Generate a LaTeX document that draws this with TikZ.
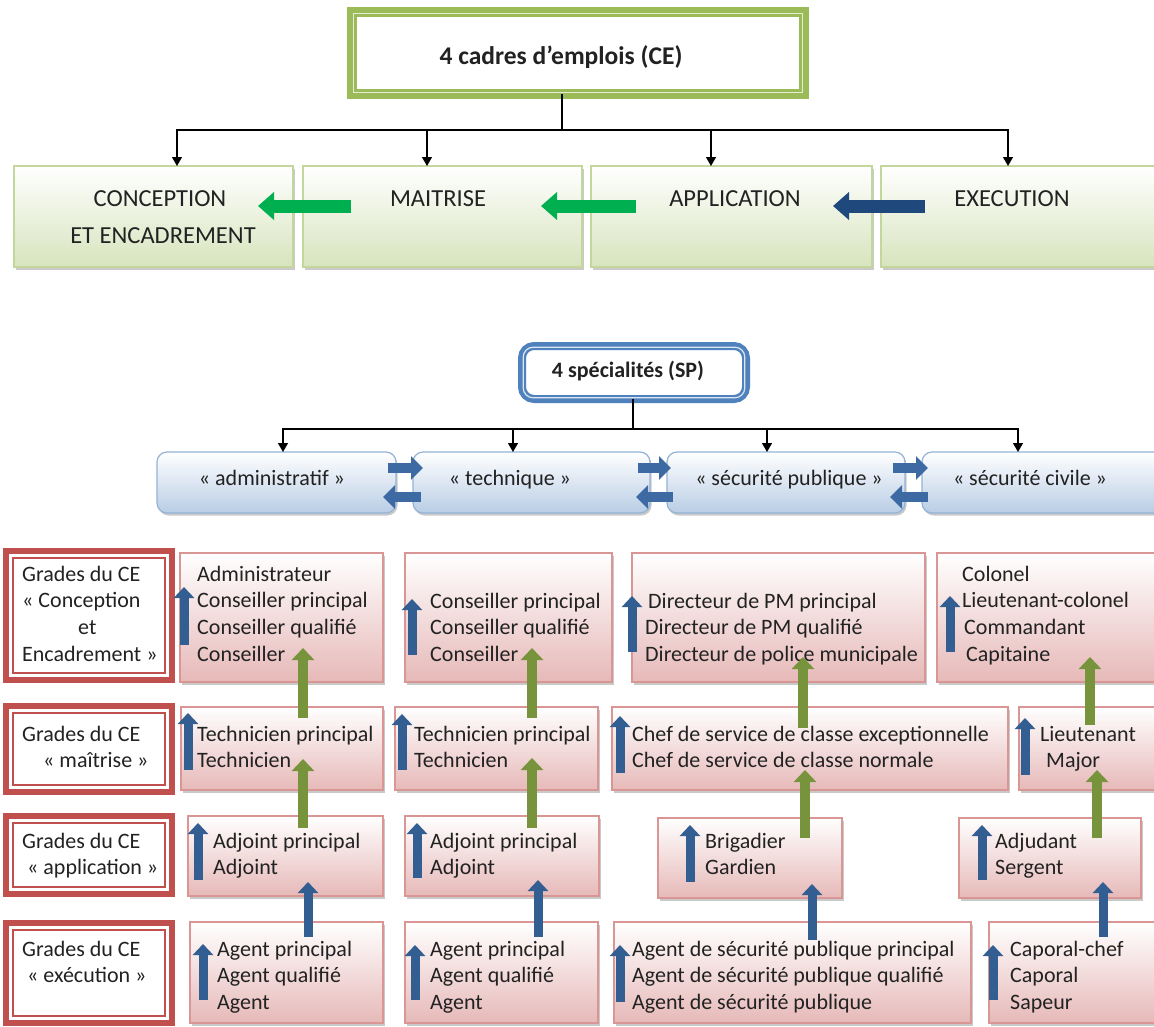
\documentclass[tikz,border=0pt]{standalone}
\usepackage{fontspec}
\setmainfont{Carlito}
\usetikzlibrary{arrows.meta,shadows}
\definecolor{txt}{HTML}{222222}
\definecolor{gBorder}{HTML}{C3D69B}
\definecolor{gFill}{HTML}{D7E4BD}
\definecolor{bBorder}{HTML}{95B3D7}
\definecolor{bFill}{HTML}{B9CDE5}
\definecolor{pBorder}{HTML}{D99694}
\definecolor{pFill}{HTML}{E6B9B8}
\definecolor{rRed}{HTML}{C0504D}
\definecolor{tGreen}{HTML}{9BBB59}
\definecolor{tLight}{HTML}{E4EDD3}
\definecolor{spBlue}{HTML}{4F81BD}
\definecolor{spLight}{HTML}{DCE6F2}
\definecolor{arrTopG}{HTML}{00B050}
\definecolor{arrNavy}{HTML}{1F497D}
\definecolor{arrOlive}{HTML}{77933C}
\definecolor{arrBlue}{HTML}{335E92}
\definecolor{arrSwap}{HTML}{3D6AA3}
\newcommand\mybox[6]{\node[#1, minimum width={#5-#3}, minimum height={#6-#4}] (#2) at (#3,#4) {};}
\newcommand\uarr[5]{\coordinate (#2a) at (#3,#4); \coordinate (#2b) at (#3,#5); \draw[#1] (#2a) -- (#2b);}
\newcommand\harr[5]{\coordinate (#2a) at (#3,#5); \coordinate (#2b) at (#4,#5); \draw[#1] (#2a) -- (#2b);}
\begin{document}
\begin{tikzpicture}[x=1pt,y=-1pt,
  shad/.style={drop shadow={shadow xshift=1.5pt,shadow yshift=-2.5pt,opacity=0.35,fill=black!60}},
  gbox/.style={draw=gBorder,line width=1.5pt,top color=white,bottom color=gFill,anchor=north west,inner sep=0pt,outer sep=0pt,shad},
  bbox/.style={draw=bBorder,line width=1.2pt,rounded corners=10pt,top color=white,bottom color=bFill,anchor=north west,inner sep=0pt,outer sep=0pt,shad},
  pbox/.style={draw=pBorder,line width=1.5pt,top color=white,bottom color=pFill,anchor=north west,inner sep=0pt,outer sep=0pt,shad},
  rbox/.style={draw=rRed,line width=6pt,fill=white,anchor=north west,inner sep=0pt,outer sep=0pt},
  rinner/.style={draw=rRed,line width=1.6pt},
  hd/.style={font=\fontsize{24.5}{30}\selectfont,text=txt,anchor=base,inner sep=0pt},
  bt/.style={font=\fontsize{22}{27}\selectfont,text=txt,anchor=base,inner sep=0pt},
  gt/.style={font=\fontsize{22}{26.8}\selectfont,text=txt,align=left,anchor=base west,inner sep=0pt},
  conn/.style={draw=black,line width=1.3pt},
  tip/.style={-{Triangle[width=10pt,length=9pt]}},
  bluearr/.style={draw=arrBlue,line width=9pt,-{Triangle[width=20pt,length=11pt]}},
  greenarr/.style={draw=arrOlive,line width=10pt,-{Triangle[width=22pt,length=12pt]}},
  swaparr/.style={draw=arrSwap,line width=10pt,-{Triangle[width=23pt,length=12pt]}},
  topgreen/.style={draw=arrTopG,line width=13pt,-{Triangle[width=27pt,length=16pt]}},
  topnavy/.style={draw=arrNavy,line width=13pt,-{Triangle[width=27pt,length=16pt]}}
]
\useasboundingbox (0,0) rectangle (1154,1026);
\fill[white] (0,0) rectangle (1154,1026);

% ---------- title CE ----------
\node[draw=tGreen,line width=10pt,fill=white,minimum width=452,minimum height=82,inner sep=0pt,outer sep=0pt] (ce) at (578,53) {};
\draw[tLight,line width=1.4pt] ([shift={(1.5pt,-1.5pt)}]ce.north west) rectangle ([shift={(-1.5pt,1.5pt)}]ce.south east);
\node[font=\fontsize{25.5}{30}\selectfont\bfseries,text=txt,inner sep=0pt] (cet) at (561,57) {4 cadres d’emplois (CE)};

% ---------- four CE boxes ----------
\mybox{gbox}{g1}{14}{166}{293}{267}
\mybox{gbox}{g2}{303}{166}{582}{267}
\mybox{gbox}{g3}{591}{166}{872}{267}
\mybox{gbox}{g4}{881}{166}{1165}{267}
\node[hd] (g1t) at (160,206) {CONCEPTION};
\node[hd] (g1u) at (163,243) {ET ENCADREMENT};
\node[hd] (g2t) at (438,206) {MAITRISE};
\node[hd] (g3t) at (735,206) {APPLICATION};
\node[hd] (g4t) at (1012,206) {EXECUTION};

\coordinate (ceh) at (562,130);
\draw[conn] (ce.south -| ceh) -- (ceh);
\draw[conn,tip] (ceh) -| ([xshift=23.5pt]g1.north);
\draw[conn,tip] (ceh) -| ([xshift=-15.5pt]g2.north);
\draw[conn,tip] (ceh) -| ([xshift=-20.5pt]g3.north);
\draw[conn,tip] (ceh) -| ([xshift=-15pt]g4.north);

\harr{topgreen}{ta1}{351}{258}{206}
\harr{topgreen}{ta2}{636}{541}{206}
\harr{topnavy}{ta3}{925}{833}{206}

% ---------- title SP ----------
\node[draw=spBlue,line width=8pt,rounded corners=12pt,fill=white,minimum width=224,minimum height=53,inner sep=0pt,outer sep=0pt] (sp) at (634,372.5) {};
\draw[spLight,line width=1.2pt,rounded corners=10pt] ([shift={(1.2pt,-1.2pt)}]sp.north west) rectangle ([shift={(-1.2pt,1.2pt)}]sp.south east);
\node[font=\fontsize{22}{26}\selectfont\bfseries,text=txt,inner sep=0pt] (spt) at (628,371) {4 spécialités (SP)};

\mybox{bbox}{s1}{157}{452}{396}{513}
\mybox{bbox}{s2}{413}{452}{650}{513}
\mybox{bbox}{s3}{667}{452}{905}{513}
\mybox{bbox}{s4}{922}{452}{1165}{513}
\node[bt] (s1t) at (272,485) {« administratif »};
\node[bt] (s2t) at (510,485) {« technique »};
\node[bt] (s3t) at (789,485) {« sécurité publique »};
\node[bt] (s4t) at (1030,485) {« sécurité civile »};

\coordinate (sph) at (633,429);
\draw[conn] (sp.south -| sph) -- (sph);
\draw[conn,tip] (sph) -| ([xshift=6.5pt]s1.north);
\draw[conn,tip] (sph) -| ([xshift=-18.5pt]s2.north);
\draw[conn,tip] (sph) -| ([xshift=-19pt]s3.north);
\draw[conn,tip] (sph) -| ([xshift=-25.5pt]s4.north);

\harr{swaparr}{sw1r}{388}{423}{468}
\harr{swaparr}{sw1l}{421}{383}{497}
\harr{swaparr}{sw2r}{638}{671}{468}
\harr{swaparr}{sw2l}{673}{636}{497}
\harr{swaparr}{sw3r}{893}{928}{468}
\harr{swaparr}{sw3l}{928}{890}{497}

% ---------- grade label boxes ----------
\mybox{rbox}{L1}{6}{551}{172}{680}
\mybox{rbox}{L2}{6}{706}{172}{792}
\mybox{rbox}{L3}{6}{816}{172}{894}
\mybox{rbox}{L4}{6}{923}{172}{1023}
\foreach \n in {L1,L2,L3,L4}{
  \draw[rinner] ([shift={(7pt,-7pt)}]\n.north west) rectangle ([shift={(-7pt,7pt)}]\n.south east);
}
% (base anchor = baseline of the last line)
\node[gt] (L1t) at (22,661.4) {Grades du CE\\« Conception\\\hspace*{56pt}et\\Encadrement »};
\node[gt] (L2t) at (22,767.8) {Grades du CE\\\hspace*{21pt}« maîtrise »};
\node[gt] (L3t) at (22,874.8) {Grades du CE\\\hspace*{5pt}« application »};
\node[gt] (L4t) at (22,982.8) {Grades du CE\\\hspace*{5pt}« exécution »};

% ---------- grade boxes ----------
\mybox{pbox}{p11}{180}{553}{383}{682}
\mybox{pbox}{p12}{405}{553}{612}{682}
\mybox{pbox}{p13}{632}{553}{925}{682}
\mybox{pbox}{p14}{937}{553}{1165}{682}
\mybox{pbox}{p21}{181}{707}{383}{790}
\mybox{pbox}{p22}{395}{707}{598}{790}
\mybox{pbox}{p23}{612}{707}{1008}{790}
\mybox{pbox}{p24}{1019}{707}{1165}{790}
\mybox{pbox}{p31}{188}{816}{383}{896}
\mybox{pbox}{p32}{405}{816}{599}{896}
\mybox{pbox}{p33}{658}{818}{842}{898}
\mybox{pbox}{p34}{959}{818}{1141}{898}
\mybox{pbox}{p41}{190}{922}{383}{1023}
\mybox{pbox}{p42}{405}{922}{598}{1023}
\mybox{pbox}{p43}{614}{922}{971}{1023}
\mybox{pbox}{p44}{989}{922}{1165}{1023}

\node[gt] (t11) at (197,661.4) {Administrateur\\Conseiller principal\\Conseiller qualifié\\Conseiller};
\node[gt] (t12) at (430,661.6) {Conseiller principal\\Conseiller qualifié\\Conseiller};
\node[gt] (t13) at (645,661.6) {\hspace*{3pt}Directeur de PM principal\\Directeur de PM qualifié\\Directeur de police municipale};
\node[gt] (t14) at (962,661.4) {Colonel\\Lieutenant-colonel\\\hspace*{2pt}Commandant\\\hspace*{4pt}Capitaine};
\node[gt] (t21) at (197,767.8) {Technicien principal\\Technicien};
\node[gt] (t22) at (414,767.8) {Technicien principal\\Technicien};
\node[gt] (t23) at (632,767.8) {Chef de service de classe exceptionnelle\\Chef de service de classe normale};
\node[gt] (t24) at (1040,767.8) {Lieutenant\\\hspace*{6pt}Major};
\node[gt] (t31) at (213,874.8) {Adjoint principal\\Adjoint};
\node[gt] (t32) at (430,874.8) {Adjoint principal\\Adjoint};
\node[gt] (t33) at (705,874.8) {Brigadier\\Gardien};
\node[gt] (t34) at (995,874.8) {Adjudant\\Sergent};
\node[gt] (t41) at (217,1009.6) {Agent principal\\Agent qualifié\\Agent};
\node[gt] (t42) at (430,1009.6) {Agent principal\\Agent qualifié\\Agent};
\node[gt] (t43) at (632,1009.6) {Agent de sécurité publique principal\\Agent de sécurité publique qualifié\\Agent de sécurité publique};
\node[gt] (t44) at (1010,1009.6) {Caporal-chef\\Caporal\\Sapeur};

% ---------- blue arrows inside boxes ----------
\uarr{bluearr}{b11}{184}{645}{587}
\uarr{bluearr}{b12}{412}{655}{599}
\uarr{bluearr}{b13}{632}{652}{596}
\uarr{bluearr}{b14}{950}{652}{596}
\uarr{bluearr}{b21}{188}{770}{713}
\uarr{bluearr}{b22}{402}{770}{714}
\uarr{bluearr}{b23}{620}{773}{716}
\uarr{bluearr}{b24}{1025}{775}{718}
\uarr{bluearr}{b31}{198}{880}{823}
\uarr{bluearr}{b32}{417}{878}{823}
\uarr{bluearr}{b33}{690}{882}{825}
\uarr{bluearr}{b34}{982}{880}{825}
\uarr{bluearr}{b41}{203}{1000}{944}
\uarr{bluearr}{b42}{415}{1000}{945}
\uarr{bluearr}{b43}{620}{1002}{945}
\uarr{bluearr}{b44}{993}{1000}{945}

% ---------- arrows between rows ----------
\uarr{greenarr}{v11}{303}{718}{648}
\uarr{greenarr}{v12}{532}{718}{648}
\uarr{greenarr}{v13}{803}{728}{657}
\uarr{greenarr}{v14}{1090}{725}{657}
\uarr{greenarr}{v21}{303}{828}{759}
\uarr{greenarr}{v22}{532}{828}{758}
\uarr{greenarr}{v23}{805}{838}{770}
\uarr{greenarr}{v24}{1097}{838}{770}
\uarr{bluearr}{v31}{308}{937}{882}
\uarr{bluearr}{v32}{538}{937}{880}
\uarr{bluearr}{v33}{812}{940}{884}
\uarr{bluearr}{v34}{1103}{937}{882}
\end{tikzpicture}
\end{document}
